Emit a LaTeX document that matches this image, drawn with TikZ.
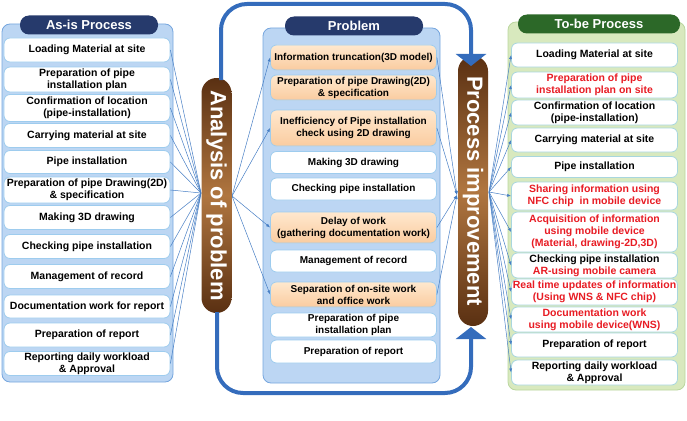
\documentclass[tikz,border=0pt]{standalone}
\usepackage{fontspec}
\setmainfont{Liberation Sans}
\usetikzlibrary{arrows.meta}
\definecolor{panelblue}{RGB}{188,214,243}
\definecolor{panelline}{RGB}{118,166,222}
\definecolor{itemline}{RGB}{158,204,238}
\definecolor{panelgreen}{RGB}{216,233,190}
\definecolor{greenline}{RGB}{186,214,158}
\definecolor{tealline}{RGB}{168,214,222}
\definecolor{lightorange}{RGB}{250,204,160}
\definecolor{paleorange}{RGB}{255,232,206}
\definecolor{orangeline}{RGB}{232,160,98}
\definecolor{navy}{RGB}{38,58,108}
\definecolor{darkgreen}{RGB}{44,104,40}
\definecolor{darkbrown}{RGB}{90,48,18}
\definecolor{lightbrown}{RGB}{176,118,64}
\definecolor{linkblue}{RGB}{70,126,196}
\definecolor{loopblue}{RGB}{52,108,188}
\definecolor{redtext}{RGB}{232,28,36}

\begin{document}
\begin{tikzpicture}[x=1pt, y=-1pt,
    panel/.style={draw=panelline, fill=panelblue, rounded corners=8pt, line width=0.8pt},
    item/.style={draw=itemline, fill=white, rounded corners=6pt, line width=0.8pt,
        minimum width=166pt, inner sep=0pt, align=center,
        font=\bfseries\fontsize{10.5}{12}\selectfont},
    probitem/.style={item, draw=orangeline, top color=paleorange, bottom color=lightorange},
    problemitem/.style={item, font=\bfseries\fontsize{10}{12}\selectfont},
    greenitem/.style={item, draw=tealline},
    reditem/.style={greenitem, text=redtext},
    title/.style={fill=navy, text=white, rounded corners=9pt, minimum width=138pt,
        minimum height=19pt, inner sep=0pt, font=\bfseries\fontsize{13}{13}\selectfont},
    pill/.style={rotate=-90, rounded corners=15pt, minimum height=30pt, inner sep=0pt,
        text=white, top color=darkbrown, bottom color=darkbrown, middle color=lightbrown,
        font=\bfseries\fontsize{22}{22}\selectfont},
    link/.style={draw=linkblue, line width=0.5pt},
    arrowlink/.style={link, -{Latex[length=4pt,width=3pt]}},
    loop/.style={draw=loopblue, line width=4pt, rounded corners=26pt,
        -{Triangle[length=12pt,width=30pt]}}]
    \useasboundingbox (0,0) rectangle (687,420);

    % As-is process
    \draw[panel] (2,24) rectangle (173,382);
    \node[title] (asis) at (89,25) {As-is Process};
    \node[item, minimum height=24pt] (a1) at (87,50) {Loading Material at site};
    \node[item, minimum height=25pt] (a2) at (87,79.5) {Preparation of pipe\\installation plan};
    \node[item, minimum height=27pt] (a3) at (87,108) {Confirmation of location\\(pipe-installation)};
    \node[item, minimum height=24pt] (a4) at (87,135.5) {Carrying material at site};
    \node[item, minimum height=23pt] (a5) at (87,162) {Pipe installation};
    \node[item, minimum height=26pt] (a6) at (87,190) {Preparation of pipe Drawing(2D)\\\& specification};
    \node[item, minimum height=24pt] (a7) at (87,217.5) {Making 3D drawing};
    \node[item, minimum height=24pt] (a8) at (87,246.5) {Checking pipe installation};
    \node[item, minimum height=24pt] (a9) at (87,276.5) {Management of record};
    \node[item, minimum height=23pt] (a10) at (87,306.5) {Documentation work for report};
    \node[item, minimum height=24pt] (a11) at (87,335) {Preparation of report};
    \node[item, minimum height=24pt] (a12) at (87,363.5) {Reporting daily workload\\\& Approval};

    % Problem
    \draw[panel] (263,28) rectangle (440,383);
    \node[title] (prob) at (354,26) {Problem};
    \node[probitem, problemitem, minimum height=25pt] (p1) at (353.5,57.5) {Information truncation(3D model)};
    \node[probitem, problemitem, minimum height=25pt] (p2) at (353.5,87.5) {Preparation of pipe Drawing(2D)\\\& specification};
    \node[probitem, problemitem, minimum height=36pt] (p3) at (353.5,128) {Inefficiency of Pipe installation\\check using 2D drawing};
    \node[problemitem, minimum height=22pt] (p4) at (353.5,162.5) {Making 3D drawing};
    \node[problemitem, minimum height=22pt] (p5) at (353.5,189) {Checking pipe installation};
    \node[probitem, problemitem, minimum height=31pt] (p6) at (353.5,227.5) {Delay of work\\(gathering documentation work)};
    \node[problemitem, minimum height=22pt] (p7) at (353.5,261) {Management of record};
    \node[probitem, problemitem, minimum height=25pt] (p8) at (353.5,294.5) {Separation of on-site work\\and office work};
    \node[problemitem, minimum height=24pt] (p9) at (353.5,325) {Preparation of pipe\\installation plan};
    \node[problemitem, minimum height=23pt] (p10) at (353.5,351.5) {Preparation of report};

    % To-be process
    \draw[panel, draw=greenline, fill=panelgreen] (508,22) rectangle (685,390);
    \node[title, fill=darkgreen, minimum width=162pt] (tobe) at (599,24) {To-be Process};
    \node[greenitem, minimum height=24pt] (t1) at (594.5,55) {Loading Material at site};
    \node[reditem, minimum height=26pt] (t2) at (594.5,85) {Preparation of pipe\\installation plan on site};
    \node[greenitem, minimum height=25pt] (t3) at (594.5,112.5) {Confirmation of location\\(pipe-installation)};
    \node[greenitem, minimum height=24pt] (t4) at (594.5,140) {Carrying material at site};
    \node[greenitem, minimum height=21pt] (t5) at (594.5,167) {Pipe installation};
    \node[reditem, minimum height=28pt] (t6) at (594.5,196) {Sharing information using\\NFC chip~~in mobile device};
    \node[reditem, minimum height=40pt] (t7) at (594.5,232) {Acquisition of information\\using mobile device\\(Material, drawing-2D,3D)};
    \node[greenitem, minimum height=25pt] (t8) at (594.5,265.5) {Checking pipe installation\\\textcolor{redtext}{AR-using mobile camera}};
    \node[reditem, minimum height=26pt] (t9) at (594.5,292) {Real time updates of information\\(Using WNS \& NFC chip)};
    \node[reditem, minimum height=25pt] (t10) at (594.5,319.5) {Documentation work\\using mobile device(WNS)};
    \node[greenitem, minimum height=24pt] (t11) at (594.5,345) {Preparation of report};
    \node[greenitem, minimum height=25pt] (t12) at (594.5,372.5) {Reporting daily workload\\\& Approval};

    % junctions of the thin links
    \coordinate (ajoin) at (201,193);
    \coordinate (pout) at (232,196);
    \coordinate (pin) at (457,195);
    \coordinate (qout) at (489,192);

    % as-is items into the analysis
    \draw[link] (a1.east) -- (ajoin);
    \draw[link] (a2.east) -- (ajoin);
    \draw[link] (a3.east) -- (ajoin);
    \draw[link] (a4.east) -- (ajoin);
    \draw[link] (a5.east) -- (ajoin);
    \draw[link] (a6.east) -- (ajoin);
    \draw[link] (a7.east) -- (ajoin);
    \draw[link] (a8.east) -- (ajoin);
    \draw[link] (a9.east) -- (ajoin);
    \draw[link] (a10.east) -- (ajoin);
    \draw[link] (a11.east) -- (ajoin);
    \draw[link] (a12.east) -- (ajoin);

    % analysis to the problems
    \draw[arrowlink] (pout) -- (p1.west);
    \draw[arrowlink] (pout) -- (p3.west);
    \draw[arrowlink] (pout) -- (p6.west);
    \draw[arrowlink] (pout) -- (p8.west);

    % problems to the improvement
    \draw[arrowlink] (p1.east) -- (pin);
    \draw[arrowlink] (p3.east) -- (pin);
    \draw[arrowlink] (p6.east) -- (pin);
    \draw[arrowlink] (p8.east) -- (pin);

    % improvement to the to-be items
    \draw[arrowlink] (qout) -- (t1.west);
    \draw[arrowlink] (qout) -- (t2.west);
    \draw[arrowlink] (qout) -- (t3.west);
    \draw[arrowlink] (qout) -- (t4.west);
    \draw[arrowlink] (qout) -- (t5.west);
    \draw[arrowlink] (qout) -- (t6.west);
    \draw[arrowlink] (qout) -- (t7.west);
    \draw[arrowlink] (qout) -- (t8.west);
    \draw[arrowlink] (qout) -- (t9.west);
    \draw[arrowlink] (qout) -- (t10.west);
    \draw[arrowlink] (qout) -- (t11.west);
    \draw[arrowlink] (qout) -- (t12.west);

    % the two vertical pills
    \node[pill, minimum width=235pt] (analysis) at (216.5,195.5) {Analysis of problem};
    \node[pill, minimum width=270pt] (improve) at (473,191) {Process improvement};

    % big loop arrows
    \draw[loop] (221,80) -- (221,4) -- (471,4) -- (471,66);
    \draw[loop] (217,312) -- (217,393) -- (471,393) -- (471,327);
\end{tikzpicture}
\end{document}
